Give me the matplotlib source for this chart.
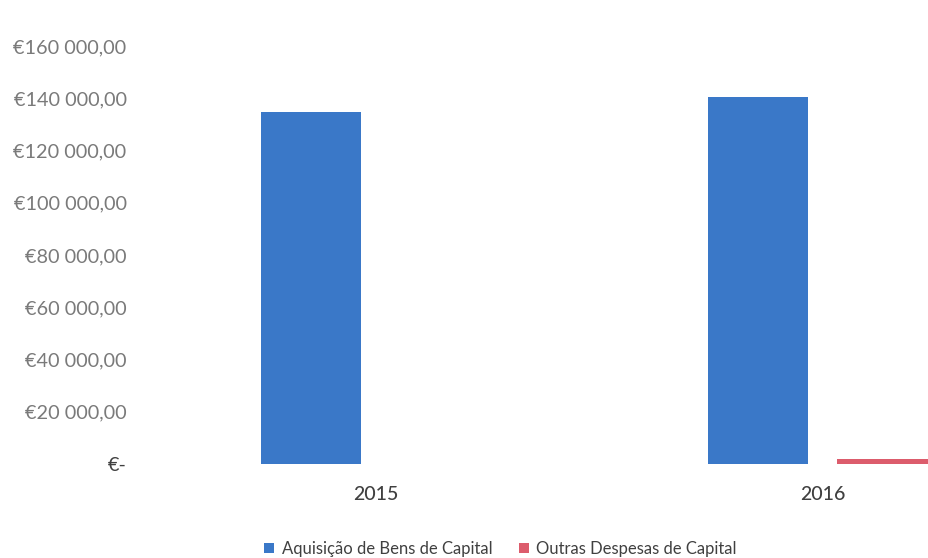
import matplotlib.pyplot as plt
import numpy as np

anos = ['2015', '2016']
aquisicao = [134700, 140500]
outras = [0, 2000]
series_nomes = ['Aquisição de Bens de Capital', 'Outras Despesas de Capital']
yticks = [0, 20000, 40000, 60000, 80000, 100000, 120000, 140000, 160000]


def fmt_euro(v):
    if v == 0:
        return '€-'
    return '€' + '{:,.0f}'.format(v).replace(',', ' ') + ',00'


plt.rcParams['font.family'] = ['Lato', 'DejaVu Sans']

fig = plt.figure(figsize=(9.29, 5.58), dpi=100)
ax = fig.add_axes([153 / 929, 94 / 558, 1 - 153 / 929, (512 - 94) / 558])

x = np.arange(len(anos))
w = 0.224
off = 0.145
b1 = ax.bar(x - off, aquisicao, w, color='#3a78c8', label=series_nomes[0])
b2 = ax.bar(x + off, outras, w, color='#dc5c6c', label=series_nomes[1])

ax.set_xlim(-0.5, (929 - 376.5) / 446)
ax.set_ylim(0, 160000)
ax.set_yticks(yticks)
ax.set_yticklabels([fmt_euro(v) for v in yticks])
ax.set_xticks(x)
ax.set_xticklabels(anos, fontweight='medium')

for s in ax.spines.values():
    s.set_visible(False)
ax.tick_params(axis='y', length=0, pad=19, labelsize=14.3, labelcolor='#7a7a7a')
ax.tick_params(axis='x', length=0, pad=16, labelsize=14, labelcolor='#404040')
ax.get_yticklabels()[0].set_color('#404040')

leg = fig.legend(handles=[b1, b2], loc='lower left', bbox_to_anchor=(254 / 929, -0.016),
                 ncol=2, frameon=False, fontsize=12, handlelength=0.6, handleheight=0.6,
                 handletextpad=0.45, columnspacing=1.6, borderaxespad=0.2)
for t in leg.get_texts():
    t.set_color('#404040')

fig.savefig('out.png', dpi=100)
